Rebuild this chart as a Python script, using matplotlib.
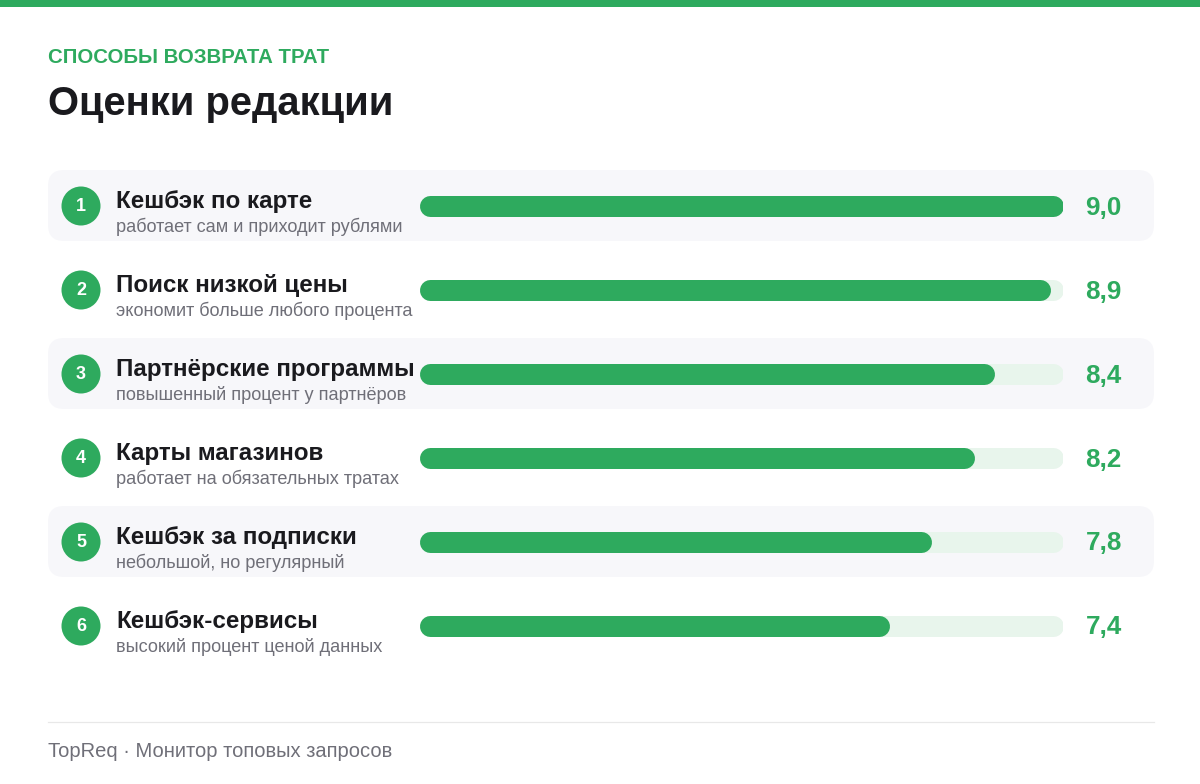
import matplotlib
matplotlib.use("Agg")
import matplotlib.pyplot as plt
from matplotlib.patches import Circle, FancyBboxPatch, Rectangle

plt.rcParams["font.family"] = ["Liberation Sans", "DejaVu Sans"]

# Data
ranks = [1, 2, 3, 4, 5, 6]
names = ["Кешбэк по карте", "Поиск низкой цены", "Партнёрские программы",
         "Карты магазинов", "Кешбэк за подписки", "Кешбэк-сервисы"]
notes = ["работает сам и приходит рублями", "экономит больше любого процента",
         "повышенный процент у партнёров", "работает на обязательных тратах",
         "небольшой, но регулярный", "высокий процент ценой данных"]
scores = ["9,0", "8,9", "8,4", "8,2", "7,8", "7,4"]
fill_pct = [100, 98.1, 89.4, 86.2, 79.5, 73.1]

GREEN = "#2EAA5E"
TRACK = "#E8F5EC"
ROW_BG = "#F7F7FA"
DARK = "#1A1A1E"
GREY = "#6F6F78"

W, H = 1200, 784
BAR_X0, BAR_X1 = 419.5, 1063
BAR_H = 21
ROW_Y0, ROW_STEP = 206, 84

fig = plt.figure(figsize=(W / 100, H / 100), dpi=100, facecolor="white")

# background layer in pixels
ax = fig.add_axes([0, 0, 1, 1])
ax.set_xlim(0, W)
ax.set_ylim(H, 0)
ax.axis("off")

ax.add_patch(Rectangle((0, 0), W, 7, color=GREEN, lw=0))
ax.text(48, 63, "СПОСОБЫ ВОЗВРАТА ТРАТ", color=GREEN, fontsize=14.7, fontweight="bold")
ax.text(48, 115, "Оценки редакции", color=DARK, fontsize=28.8, fontweight="bold")

for i in range(len(names)):
    y = ROW_Y0 + i * ROW_STEP
    if i % 2 == 0:
        ax.add_patch(FancyBboxPatch((64, y - 36 + 16), 1074, 71 - 32,
                                    boxstyle="round,pad=16,rounding_size=16",
                                    fc=ROW_BG, ec="none"))
    ax.add_patch(Circle((81, y), 19.5, fc=GREEN, ec="none"))
    ax.text(81, y + 0.5, str(ranks[i]), color="white", fontsize=13, fontweight="bold",
            ha="center", va="center")
    ax.text(116, y + 2, names[i], color=DARK, fontsize=17.4, fontweight="bold")
    ax.text(116, y + 26, notes[i], color=GREY, fontsize=13.05)
    ax.text(1085.5, y + 8.5, scores[i], color=GREEN, fontsize=18.7, fontweight="bold")

ax.plot([48, 1154], [722, 722], color="#E8E8E8", lw=0.9)
ax.text(48, 757, "TopReq · Монитор топовых запросов", color=GREY, fontsize=14.5)

# bars on their own 0-100 axis
bx = fig.add_axes([BAR_X0 / W, 0, (BAR_X1 - BAR_X0) / W, 1])
bx.set_xlim(0, 100)
bx.set_ylim(H, 0)
bx.axis("off")
bx.patch.set_alpha(0)

cap = (BAR_H / 2) / (BAR_X1 - BAR_X0) * 100
lw_pt = BAR_H * 72 / 100
for i, pct in enumerate(fill_pct):
    y = ROW_Y0 + i * ROW_STEP
    bx.plot([cap, 100 - cap], [y, y], color=TRACK, lw=lw_pt, solid_capstyle="round")
    bx.plot([cap, pct - cap], [y, y], color=GREEN, lw=lw_pt, solid_capstyle="round")

fig.savefig("out.png", dpi=100)
